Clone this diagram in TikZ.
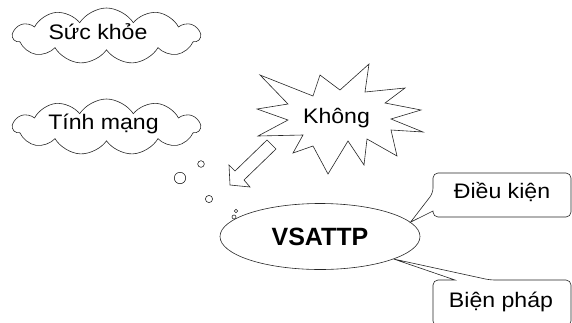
\documentclass[tikz,border=0pt]{standalone}
\usepackage{fontspec}
\setmainfont{Liberation Sans}
\usetikzlibrary{shapes.symbols,shapes.geometric}
\newcommand\wtxt[1]{\scalebox{1.1}[1]{#1}}
\begin{document}
\begin{tikzpicture}[x=1pt,y=-1pt,
  ln/.style={draw=black!85, line width=0.6pt},
  lbl/.style={anchor=base, inner sep=0pt, font=\fontsize{21}{25}\selectfont},
  cloudbox/.style={cloud, ln, cloud puffs=11, cloud puff arc=115, aspect=3.3, minimum width=187pt, minimum height=56pt, inner sep=0pt},
  bubble/.style={circle, ln, inner sep=0pt}]
\useasboundingbox (0,0) rectangle (572,322);
% clouds
\node[cloudbox] (c1) at (106.5,36) {};
\node[lbl] (t1) at (98,39.5) {\wtxt{Sức khỏe}};
\node[cloudbox] (c2) at (106.5,127) {};
\node[lbl] (t2) at (103.5,129.5) {\wtxt{Tính mạng}};
% explosion
\draw[ln, fill=white] (260,75) -- (313,96) -- (320,75) -- (340,90) -- (369,64) -- (365,92)
  -- (405,88) -- (385,103) -- (421,110) -- (391,119) -- (423,132) -- (391,130)
  -- (397,156) -- (367,139) -- (364,165) -- (348,141) -- (328,174) -- (313,146)
  -- (293,153) -- (303,135) -- (258,136) -- (288,120) -- (257,109) -- (288,104) -- cycle;
\node[lbl] (kh) at (336.5,123.5) {\wtxt{Không}};
% block arrow
\draw[ln, fill=white] (230,185) -- (250,187) -- (244,180) -- (276,149) -- (267,140) -- (235,171) -- (229,165) -- cycle;
% thought bubbles
\node[bubble, minimum size=6.6pt] (b1) at (201,164) {};
\node[bubble, minimum size=11.4pt] (b2) at (180,178) {};
\node[bubble, minimum size=7.2pt] (b3) at (209,199) {};
\node[bubble, minimum size=3.4pt] (b4) at (236,211) {};
\node[bubble, minimum size=4pt] (b5) at (234,217) {};
% main ellipse
\node[ellipse, ln, minimum width=200pt, minimum height=66pt, inner sep=0pt,
  font=\fontsize{25}{29}\selectfont\bfseries] (vs) at (320,236.5) {VSATTP};
% callouts
\draw[ln, fill=white] (433,211) [rounded corners=5pt] -- (433,217) -- (571,217) -- (571,173) -- (433,173) -- (433,193) [sharp corners] -- (vs.9) -- cycle;
\node[lbl] (dk) at (502,198.5) {\wtxt{Điều kiện}};
\draw[ln, fill=white] (455,280) [rounded corners=5pt] -- (433,280) -- (433,326) -- (571,326) -- (571,280) -- (490,280) [sharp corners] -- (vs.-17) -- cycle;
\node[lbl] (bp) at (501,307.5) {\wtxt{Biện pháp}};
\end{tikzpicture}
\end{document}
